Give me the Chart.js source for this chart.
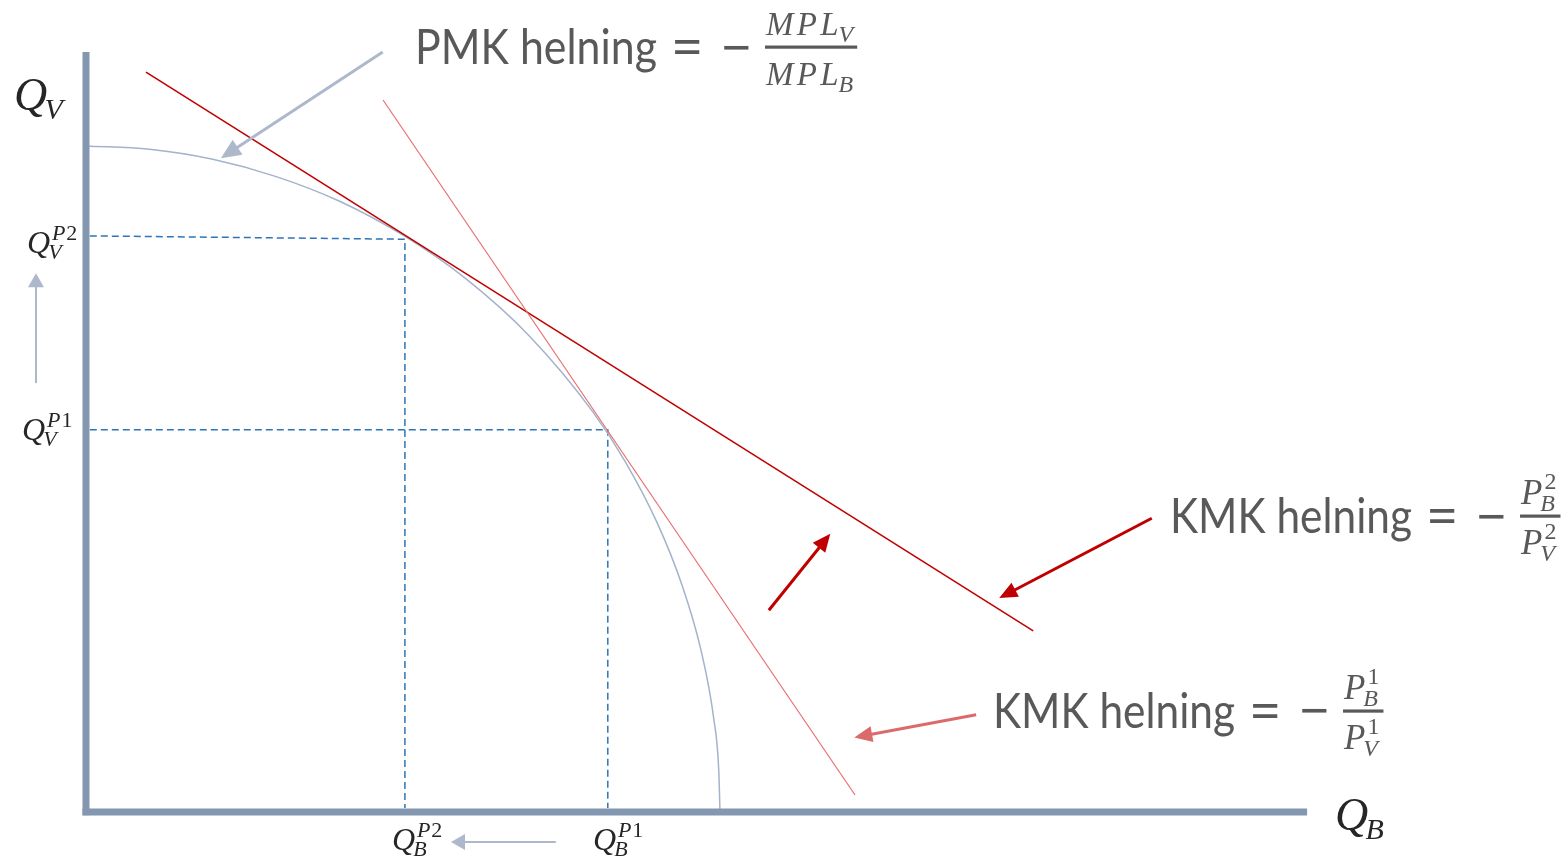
<!DOCTYPE html>
<html>
<head>
<meta charset="utf-8">
<script src="https://cdn.jsdelivr.net/npm/chart.js@4"></script>
<style>
  html, body { margin: 0; padding: 0; background: #ffffff; overflow: hidden; }
  canvas { display: block; }
</style>
</head>
<body>
<canvas id="c" width="1568" height="859"></canvas>
<script>
// ---------------- data (abstract quantity units) ----------------
// Production possibility frontier (PMK) : Q_B on x, Q_V on y
const ppfQB = [0, 10, 20, 30, 40, 50, 60, 70, 80, 85, 90, 94, 97, 99, 99.8, 100];
const ppfQV = [100, 99.5, 98, 95.4, 91.7, 86.6, 80, 71.4, 60, 52.7, 43.6, 34.1, 24.3, 14.1, 6.3, 0];

// Price lines (KMK)
const kmk1QB = [46.85, 121.3];
const kmk1QV = [106.9, 2.55];
const kmk2QB = [9.46, 149.4];
const kmk2QV = [111.1, 27.2];

// Tangency points
const p1Point = [82.3, 57.4];
const p2Point = [50.3, 86.2];

// Axis extents
const axisQBmax = 192.6;
const axisQVmax = 114.1;

// Arrows: [fromQB, fromQV, toQB, toQV]
const arrowPMK   = [46.8, 114.1, 21.8, 98.5];
const arrowUp    = [-7.89, 64.4, -7.89, 80.3];
const arrowLeft  = [74.1, -4.5, 58.2, -4.5];
const arrowShift = [107.7, 30.3, 117.0, 41.3];
const arrowKMK2  = [168.1, 44.1, 144.6, 32.4];
const arrowKMK1  = [140.4, 14.6, 121.8, 11.3];

// ---------------- helpers ----------------
function pts(xs, ys) { return xs.map((x, i) => ({ x: x, y: ys[i] })); }
function arrowDs(a, color, width, L, W) {
  return { data: [{ x: a[0], y: a[1] }, { x: a[2], y: a[3] }], borderColor: color,
           borderWidth: width, showLine: true, pointRadius: 0, arrow: { L: L, W: W }, order: 1 };
}

const GRAY_AX = '#8497b0';
const DASH = '#2e75b6';

const datasets = [
  // axes
  { data: [{ x: 0, y: -0.5 }, { x: 0, y: axisQVmax }], borderColor: GRAY_AX, borderWidth: 7, showLine: true, pointRadius: 0, order: 0 },
  { data: [{ x: -0.55, y: 0 }, { x: axisQBmax, y: 0 }], borderColor: GRAY_AX, borderWidth: 7, showLine: true, pointRadius: 0, order: 0 },
  // PPF
  { data: pts(ppfQB, ppfQV), borderColor: '#a3b3ca', borderWidth: 1.5, showLine: true, pointRadius: 0,
    cubicInterpolationMode: 'monotone', order: 3 },
  // dashed guides
  { data: [{ x: 0.6, y: p2Point[1] + 0.3 }, { x: p2Point[0], y: p2Point[1] - 0.2 }, { x: p2Point[0], y: 0.6 }],
    borderColor: DASH, borderWidth: 1.5, borderDash: [7, 4], showLine: true, pointRadius: 0, order: 4 },
  { data: [{ x: 0.6, y: p1Point[1] }, { x: p1Point[0], y: p1Point[1] }, { x: p1Point[0], y: 0.6 }],
    borderColor: DASH, borderWidth: 1.5, borderDash: [7, 4], showLine: true, pointRadius: 0, order: 4 },
  // price lines
  { data: pts(kmk1QB, kmk1QV), borderColor: '#e86e6e', borderWidth: 1.2, showLine: true, pointRadius: 0, order: 2 },
  { data: pts(kmk2QB, kmk2QV), borderColor: '#c00000', borderWidth: 1.6, showLine: true, pointRadius: 0, order: 2 },
  // arrows
  arrowDs(arrowPMK, '#adb9ca', 3, 20, 9),
  arrowDs(arrowUp, '#adb9ca', 2, 14, 8),
  arrowDs(arrowLeft, '#adb9ca', 2, 14, 8),
  arrowDs(arrowShift, '#c00000', 3, 18, 8),
  arrowDs(arrowKMK2, '#c00000', 3, 18, 8),
  arrowDs(arrowKMK1, '#db6b6b', 3, 18, 8)
];

// ---------------- annotation plugin ----------------
const SERIF = '"Liberation Serif"';
const SANS = 'Lato';
const TXT_DARK = '#262626';
const TXT_GRAY = '#595959';

// draw a run where letters are italic and digits upright; returns width
function run(ctx, s, x, y, size, track) {
  let cx = x;
  for (const ch of s) {
    ctx.font = (/[0-9]/.test(ch) ? '' : 'italic ') + size + 'px ' + SERIF;
    ctx.fillText(ch, cx, y);
    cx += ctx.measureText(ch).width + size * track;
  }
  return cx - x;
}

function symbol(ctx, x, base, b, sub, sup, fs, ss, color, track) {
  track = track || 0.04;
  ctx.fillStyle = color;
  ctx.textAlign = 'left';
  ctx.textBaseline = 'alphabetic';
  const w = run(ctx, b, x, base, fs, track);
  let w2 = 0;
  if (sup) w2 = Math.max(w2, run(ctx, sup, x + w + fs * 0.02, base - fs * 0.42, ss, 0.04) + fs * 0.02);
  if (sub) w2 = Math.max(w2, run(ctx, sub, x + w - fs * 0.1, base + fs * 0.2, ss, 0.04) - fs * 0.1);
  return w + w2;
}

function centeredGlyph(ctx, g, cx, cy, font, color) {
  ctx.font = font;
  ctx.fillStyle = color;
  ctx.textAlign = 'left';
  ctx.textBaseline = 'alphabetic';
  const m = ctx.measureText(g);
  const inkW = m.actualBoundingBoxRight + m.actualBoundingBoxLeft;
  const x = cx - inkW / 2 + m.actualBoundingBoxLeft;
  const y = cy - (m.actualBoundingBoxDescent - m.actualBoundingBoxAscent) / 2;
  ctx.fillText(g, x, y);
}

function equation(ctx, x, axisY, e) {
  ctx.save();
  ctx.font = '48px ' + SANS;
  ctx.fillStyle = TXT_GRAY;
  ctx.textAlign = 'left';
  ctx.textBaseline = 'alphabetic';
  const mw = ctx.measureText(e.words).width;
  ctx.translate(x, axisY + 17);
  ctx.scale(242 / mw, 1);
  ctx.fillText(e.words, 0, 0);
  ctx.restore();
  centeredGlyph(ctx, '=', x + 272, axisY, 'bold 52px ' + SERIF, TXT_GRAY);
  centeredGlyph(ctx, '\u2212', x + 321, axisY, 'bold 52px ' + SERIF, TXT_GRAY);
  const fx = x + 350;
  const wn = symbol(ctx, fx + 1, axisY - 12, e.num.b, e.num.sub, e.num.sup, e.fs, e.ss, TXT_GRAY, e.track);
  const wd = symbol(ctx, fx + 1, axisY + 38, e.den.b, e.den.sub, e.den.sup, e.fs, e.ss, TXT_GRAY, e.track);
  const bw = Math.max(wn, wd) + 4;
  ctx.fillStyle = TXT_GRAY;
  ctx.fillRect(fx, axisY - 1.5, bw, 3.2);
}

// label anchors in data units (left edge, baseline)
const labels = [
  { qb: -11.36, qv: 105.4, b: 'Q', sub: 'V', sup: null, fs: 46, ss: 30 },
  { qb: 197.0, qv: -2.70, b: 'Q', sub: 'B', sup: null, fs: 46, ss: 30 },
  { qb: -9.31, qv: 83.93, b: 'Q', sub: 'V', sup: 'P2', fs: 32, ss: 22 },
  { qb: -10.09, qv: 55.86, b: 'Q', sub: 'V', sup: 'P1', fs: 32, ss: 22 },
  { qb: 48.26, qv: -5.71, b: 'Q', sub: 'B', sup: 'P2', fs: 32, ss: 22 },
  { qb: 79.97, qv: -5.71, b: 'Q', sub: 'B', sup: 'P1', fs: 32, ss: 22 }
];
const equations = [
  { qb: 51.89, qv: 114.86, words: 'PMK helning', fs: 33, ss: 24, track: 0.1,
    num: { b: 'MPL', sub: 'V', sup: null }, den: { b: 'MPL', sub: 'B', sup: null } },
  { qb: 170.98, qv: 44.44, words: 'KMK helning', fs: 35, ss: 24,
    num: { b: 'P', sub: 'B', sup: '2' }, den: { b: 'P', sub: 'V', sup: '2' } },
  { qb: 143.06, qv: 15.17, words: 'KMK helning', fs: 35, ss: 24,
    num: { b: 'P', sub: 'B', sup: '1' }, den: { b: 'P', sub: 'V', sup: '1' } }
];

const annot = {
  id: 'annot',
  afterDatasetsDraw(chart) {
    const ctx = chart.ctx;
    const xs = chart.scales.x, ys = chart.scales.y;
    chart.data.datasets.forEach((ds, i) => {
      if (!ds.arrow) return;
      const meta = chart.getDatasetMeta(i);
      const p0 = meta.data[0], p1 = meta.data[1];
      const ang = Math.atan2(p1.y - p0.y, p1.x - p0.x);
      const L = ds.arrow.L, W = ds.arrow.W;
      const tx = p1.x + 4 * Math.cos(ang), ty = p1.y + 4 * Math.sin(ang);
      ctx.save();
      ctx.translate(tx, ty);
      ctx.rotate(ang);
      ctx.beginPath();
      ctx.moveTo(0, 0);
      ctx.lineTo(-L, -W);
      ctx.lineTo(-L, W);
      ctx.closePath();
      ctx.fillStyle = ds.borderColor;
      ctx.fill();
      ctx.restore();
    });
    labels.forEach(l => {
      symbol(ctx, xs.getPixelForValue(l.qb), ys.getPixelForValue(l.qv), l.b, l.sub, l.sup, l.fs, l.ss, TXT_DARK);
    });
    equations.forEach(e => {
      equation(ctx, xs.getPixelForValue(e.qb), ys.getPixelForValue(e.qv), e);
    });
  }
};

new Chart(document.getElementById('c'), {
  type: 'scatter',
  data: { datasets: datasets },
  options: {
    responsive: false,
    animation: false,
    layout: { padding: 0 },
    plugins: { legend: { display: false }, tooltip: { enabled: false } },
    elements: { point: { radius: 0 } },
    scales: {
      x: { type: 'linear', display: false, min: -13.565, max: 233.75 },
      y: { type: 'linear', display: false, min: -7.057, max: 121.92 }
    }
  },
  plugins: [annot]
});
</script>
</body>
</html>
